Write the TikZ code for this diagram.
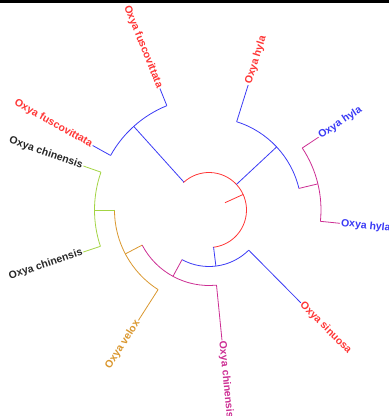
\documentclass[tikz,border=0pt]{standalone}
\usepackage{fontspec}
\setmainfont{Liberation Sans}
\definecolor{cred}{HTML}{FF3535}
\definecolor{cblue}{HTML}{3A3AF5}
\definecolor{cmag}{HTML}{CC2E93}
\definecolor{corange}{HTML}{DA972E}
\definecolor{cgreen}{HTML}{A3D444}
\definecolor{cblack}{HTML}{262626}
\newcommand\myleaf[9]{%
  \coordinate (#1a) at (#2:#3);
  \coordinate (#1) at (#2:#4);
  \draw[br,#5] (#1a) -- (#1);
  \node[lab,text=#6,anchor=#7,rotate=#8] (#1t) at (#1) {#9};
}
\begin{document}
\begin{tikzpicture}[x=1pt,y=1pt,
  br/.style={line width=0.8pt},
  lab/.style={font=\bfseries\fontsize{10.5}{12}\selectfont, inner sep=1pt}]
\useasboundingbox (0,0) rectangle (389,-416);
\fill[black] (0,0) rectangle (389,-2.7);
\begin{scope}[shift={(209,-210)}]
  % root
  \coordinate (r0) at (24.5:17.5);
  \coordinate (r1) at (24.5:37.5);
  \draw[br,cred] (r0) -- (r1);
  \draw[br,cred] (133:37.5) arc[start angle=133,end angle=-84,radius=37.5];
  % clade A
  \coordinate (A0) at (132:37.5);
  \coordinate (A) at (132:112.5);
  \draw[br,cblue] (A0) -- (A);
  \draw[br,cblue] (151:112.5) arc[start angle=151,end angle=112,radius=112.5];
  \myleaf{la}{112}{112.5}{131}{cblue}{cred}{east}{-68}{Oxya fuscovittata}
  \myleaf{lb}{151}{112.5}{133}{cblue}{cred}{east}{-29}{Oxya fuscovittata}
  % clade B
  \coordinate (B0) at (43:37.5);
  \coordinate (B) at (43:92.5);
  \draw[br,cblue] (B0) -- (B);
  \draw[br,cblue] (72.6:92.5) arc[start angle=72.6,end angle=13.5,radius=92.5];
  \myleaf{lj}{72.6}{92.5}{131}{cblue}{cred}{west}{72.6}{Oxya hyla}
  \coordinate (G0) at (13.5:92.5);
  \coordinate (G) at (13.5:112);
  \draw[br,cmag] (G0) -- (G);
  \draw[br,cmag] (33.6:112) arc[start angle=33.6,end angle=-5.8,radius=112];
  \myleaf{li}{33.6}{112}{131.6}{cmag}{cblue}{west}{33.6}{Oxya hyla}
  \myleaf{lh}{-5.8}{112}{131.6}{cmag}{cblue}{west}{-5.8}{Oxya hyla}
  % clade C
  \coordinate (C0) at (-83:37.5);
  \coordinate (Cn) at (-83:56.5);
  \draw[br,cblue] (C0) -- (Cn);
  \draw[br,cblue] (-45.3:56.5) arc[start angle=-45.3,end angle=-118.5,radius=56.5];
  \myleaf{lg}{-45.3}{56.5}{130.5}{cblue}{cred}{west}{-45.3}{Oxya sinuosa}
  \coordinate (D0) at (-118.5:56.5);
  \coordinate (D) at (-118.5:75.5);
  \draw[br,cmag] (D0) -- (D);
  \draw[br,cmag] (-84.3:75.5) arc[start angle=-84.3,end angle=-152.3,radius=75.5];
  \myleaf{lf}{-84.3}{75.5}{131}{cmag}{cmag}{west}{-84.3}{Oxya chinensis}
  \coordinate (E0) at (-152.3:75.5);
  \coordinate (E) at (-152.3:94.5);
  \draw[br,corange] (E0) -- (E);
  \draw[br,corange] (180:94.5) arc[start angle=180,end angle=237.4,radius=94.5];
  \myleaf{le}{237.4}{94.5}{131}{corange}{corange}{east}{57.4}{Oxya velox}
  \coordinate (F0) at (180:94.5);
  \coordinate (F) at (180:114.5);
  \draw[br,cgreen] (F0) -- (F);
  \draw[br,cgreen] (160.7:114.5) arc[start angle=160.7,end angle=198.5,radius=114.5];
  \myleaf{lc}{160.7}{114.5}{133}{cgreen}{cblack}{east}{-19.3}{Oxya chinensis}
  \myleaf{ld}{198.5}{114.5}{132.5}{cgreen}{cblack}{east}{18.5}{Oxya chinensis}
\end{scope}
\end{tikzpicture}
\end{document}
